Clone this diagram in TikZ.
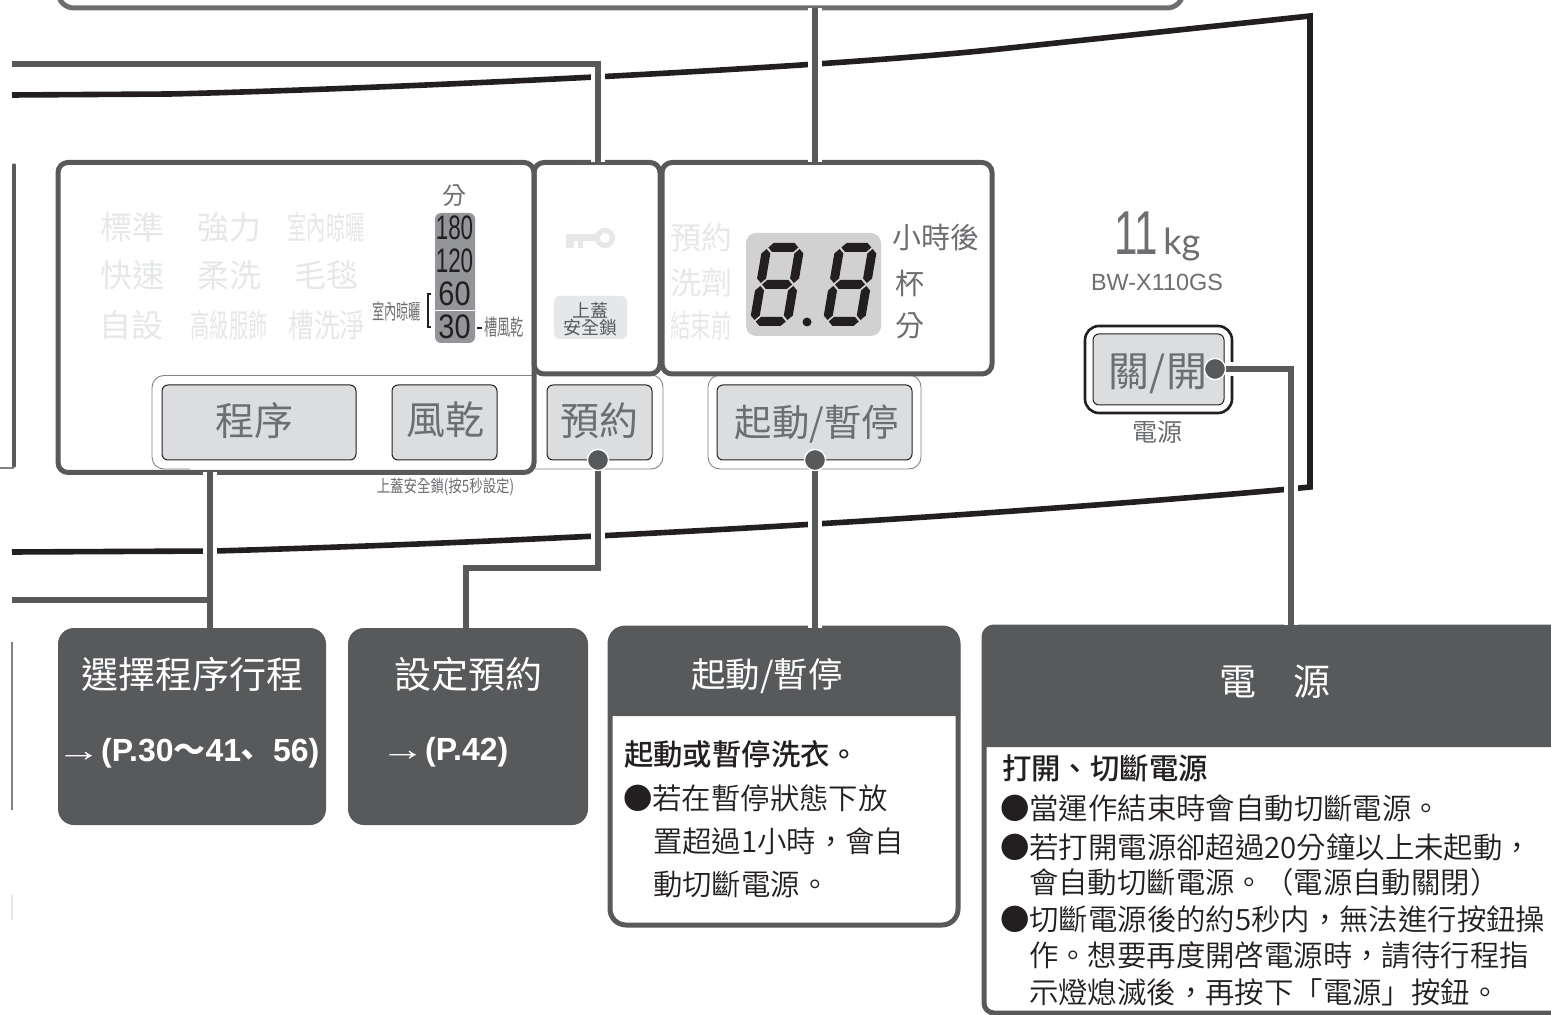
\documentclass[tikz,border=0pt]{standalone}
\usepackage{fontspec}
\usepackage{graphicx}
\setmainfont{Liberation Sans}
\newfontfamily\cjk{Noto Sans CJK TC}
\newfontfamily\cjkl{Noto Sans CJK TC DemiLight}
\newfontfamily\cjkm{Noto Sans CJK TC Medium}
\newfontfamily\latn{Lato}
\usetikzlibrary{fit}
\definecolor{dk}{HTML}{58595B}
\definecolor{md}{HTML}{6D6E71}
\definecolor{blk}{HTML}{231F20}
\definecolor{fnt}{HTML}{E6E7E8}
\definecolor{btn}{HTML}{DCDDDE}
\definecolor{rimc}{HTML}{808285}
\definecolor{colc}{HTML}{939598}
\newcommand\BX[6]{\path (#3,#4) coordinate (#1-a) (#5,#6) coordinate (#1-b);\node[fit=(#1-a)(#1-b),inner sep=0pt,outer sep=0pt,#2] (#1) {};}
\newcommand\SX[2]{\scalebox{#1}[1]{#2}}
\newcommand\hseg[2]{\fill (#1,#2) -- ++(4.5,-4.5) -- ++(21,0) -- ++(4.5,4.5) -- ++(-4.5,4.5) -- ++(-21,0) -- cycle;}
\newcommand\vseg[2]{\fill (#1,#2) -- ++(4.5,4.5) -- ++(0,25) -- ++(-4.5,4.5) -- ++(-4.5,-4.5) -- ++(0,-25) -- cycle;}
\newcommand\segdigit[2]{\begin{scope}[shift={(#1,#2)},xslant=.17,blk]
\hseg{6}{-78.5}\hseg{6}{-41.5}\hseg{6}{-4.5}
\vseg{4.5}{-77}\vseg{37.5}{-77}\vseg{4.5}{-40}\vseg{37.5}{-40}
\end{scope}}
\tikzset{
 sz/.style={font=\fontsize{#1}{#1}\selectfont\cjk,inner sep=0pt,outer sep=0pt},
 sl/.style={font=\fontsize{#1}{#1}\selectfont\cjkl,inner sep=0pt,outer sep=0pt},
 sm/.style={font=\fontsize{#1}{#1}\selectfont\cjkm,inner sep=0pt,outer sep=0pt},
 panelbox/.style={draw=dk,line width=2.5pt,rounded corners=5pt},
 btnbox/.style={draw=blk,line width=.5pt,fill=btn,rounded corners=3pt},
 darkbox/.style={fill=dk,rounded corners=8pt},
 halo/.style={preaction={draw=white,line width=7pt,line cap=butt}},
 conn/.style={draw=dk,line width=2.8pt,line join=miter},
 dotn/.style={circle,fill=dk,draw=white,line width=.6pt,minimum size=10.5pt,inner sep=0pt},
 rim/.style={draw=rimc,line width=.45pt,rounded corners=6pt},
 faint/.style={text=fnt},
 gtext/.style={text=md},
 wtext/.style={text=white},
 btext/.style={text=blk},
 numt/.style={text=blk,font=\fontsize{17}{17}\selectfont,inner sep=0pt},
 reft/.style={text=white,inner sep=0pt,font=\fontsize{16}{16}\selectfont\bfseries,anchor=west},
}
\begin{document}
\begin{tikzpicture}[x=.5pt,y=-.5pt]
\clip (0,0) rectangle (1551,1015);
\fill[white] (0,0) rectangle (1551,1015);
% washer outline
\draw[blk,line width=2.8pt,line join=miter] (12,95) -- (170,94) .. controls (350,90) and (800,70) .. (1000,49) -- (1310,16) -- (1310,487) -- (1290,489) .. controls (1000,515) and (600,540) .. (215,551) -- (12,552);
% left fragments
\draw[dk,line width=1.6pt,line cap=round] (14,165) -- (14,466);
\draw[rimc,line width=.6pt] (14,468) -- (0,468);
\draw[rimc,line width=.6pt] (12,642) -- (12,810);
\draw[fnt,line width=.6pt] (12,895) -- (12,920);
% rims
\draw[rim] (533,375.5) -- (152,375.5) -- (152,469) -- (190,469);
\draw[rim] (640,375) -- (663,375) -- (663,469) -- (535,469);
\draw[rim] (708,375) rectangle (921,469);
% boxes
\BX{topbox}{draw=md,line width=2.5pt,rounded corners=8pt}{58}{-40}{1183}{8}
\BX{box1}{darkbox}{58}{628}{326}{825}
\BX{box2}{darkbox}{348}{628}{588}{825}
\BX{box3}{draw=dk,line width=2.5pt,rounded corners=8pt}{610}{628}{958}{925}
\fill[dk] (608,716) [rounded corners=8pt] -- (608,626) -- (960,626) [sharp corners] -- (960,716) -- cycle;
\BX{box4}{draw=dk,line width=2.5pt,rounded corners=5pt}{984}{627}{1590}{1013}
\fill[dk] (982,747) [rounded corners=8pt] -- (982,625) -- (1556,625) [sharp corners] -- (1556,747) -- cycle;
% buttons
\BX{bCourse}{btnbox}{162}{385}{356}{460}
\BX{bDry}{btnbox}{392}{385}{497}{460}
\BX{bTimer}{btnbox}{547}{385}{652}{460}
\BX{bStart}{btnbox}{717}{385}{912}{460}
\BX{powerrim}{draw=blk,line width=1.3pt,rounded corners=7pt}{1085}{326}{1232}{413}
\BX{bPower}{btnbox}{1093}{334}{1224}{405}
% panels
\BX{panel1}{panelbox}{58}{162.5}{534}{472.5}
\BX{panel2}{panelbox}{534}{162.5}{660}{374}
\BX{panel3}{panelbox}{662}{162.5}{992}{374}
% dots and free ends
\node[dotn] (dotTimer) at (598,460) {};
\node[dotn] (dotStart) at (815,460) {};
\node[dotn] (dotPower) at (1215,369) {};
\coordinate (leftA) at (12,64);
\coordinate (leftB) at (12,600);
\coordinate (joinB) at (210,600);
\coordinate (elbowT) at (466,568);
\coordinate (powerDrop) at (1291,625);
% connectors
\path[conn,halo] (topbox.south -| dotStart) -- (panel3.north -| dotStart);
\path[conn,halo] (leftA) -| (panel2.north -| dotTimer);
\path[conn,halo] (panel1.south -| joinB) -- (box1.north -| joinB);
\path[conn] (leftB) -- (joinB);
\path[conn,halo] (dotTimer.south) |- (elbowT) -- (box2.north -| elbowT);
\path[conn,halo] (dotStart.south) -- (box3.north -| dotStart);
\path[conn,halo] (dotPower.east) -| (powerDrop);
\node[dotn] at (dotTimer) {};
\node[dotn] at (dotStart) {};
\node[dotn] at (dotPower) {};
% panel 1 faint labels
\node[sz=16,faint] (t1) at (132,227) {標準};
\node[sz=16,faint] (t2) at (229,227) {強力};
\node[sz=16,faint] (t3) at (326,227) {\SX{.6}{室內晾曬}};
\node[sz=16,faint] (t4) at (132,275) {快速};
\node[sz=16,faint] (t5) at (229,275) {柔洗};
\node[sz=16,faint] (t6) at (326,275) {毛毯};
\node[sz=16,faint] (t7) at (131,325) {自設};
\node[sz=16,faint] (t8) at (229,325) {\SX{.6}{高級服飾}};
\node[sz=16,faint] (t9) at (327,325) {\SX{.8}{槽洗淨}};
% time column
\node[sz=12,gtext] (fen) at (454,196) {分};
\BX{timecol}{fill=colc,rounded corners=3pt}{435}{213}{475}{343}
\draw[white,line width=.4pt] (435,310.5) -- (475,310.5);
\node[numt] (n180) at (454.5,228) {\SX{.66}{180}};
\node[numt] (n120) at (454.5,261) {\SX{.66}{120}};
\node[numt] (n60) at (454.5,294) {\SX{.85}{60}};
\node[numt] (n30) at (454.5,327) {\SX{.85}{30}};
\node[sz=10.5,gtext] (indoor) at (396.5,311) {\SX{.58}{室內晾曬}};
\draw[blk,line width=.7pt] (431,294) -- (428,294) -- (428,327) -- (431,327);
\draw[blk,line width=1pt] (477,328) -- (482,328);
\node[sz=11,gtext] (tubdry) at (504,327) {\SX{.6}{槽風乾}};
\node[sz=8.5,gtext] (lockhint) at (445.5,487) {\SX{.79}{上蓋安全鎖(按5秒設定)}};
% button labels
\node[sz=19.5,gtext] (lCourse) at (254,421) {程序};
\node[sz=19.5,gtext] (lDry) at (445,420) {風乾};
\node[sz=19.5,gtext] (lTimer) at (599,421) {預約};
\node[sz=18.7,gtext] (lStart) at (817,424) {起動/暫停};
\node[sz=20.5,gtext] (lPower) at (1158,374) {關/開};
% key
\draw[fnt,line width=2.6pt] (605,238) circle[radius=7.5];
\fill[fnt] (566,234) rectangle (598,241);
\fill[fnt] (566,241) rectangle (574,248);
\fill[fnt] (578,241) rectangle (583,248);
\BX{locktag}{fill=fnt,rounded corners=3pt}{554}{296}{627}{339}
\node[sz=9,text=dk] (lock1) at (590,310) {上蓋};
\node[sz=9,text=dk] (lock2) at (590,328) {安全鎖};
% display panel
\node[sz=15.5,faint] (d1) at (701,238) {預約};
\node[sz=15.5,faint] (d2) at (701,283) {洗劑};
\node[sz=15.5,faint] (d3) at (701,326) {\SX{.66}{結束前}};
\BX{display}{fill=black!18,rounded corners=5pt}{746}{233}{881}{336}
\segdigit{749}{326}
\segdigit{822}{326}
\fill[blk] (807,322) circle[radius=4.5];
\node[sz=14.5,gtext] (u1) at (936,238) {小時後};
\node[sz=14.5,gtext] (u2) at (910,283) {杯};
\node[sz=14.5,gtext] (u3) at (910,326) {分};
% right side labels
\node[font=\fontsize{31}{31}\selectfont,inner sep=0pt,gtext,anchor=base west] (cap) at (1114,255) {\SX{.68}{11}};
\node[font=\fontsize{18}{18}\selectfont\latn,inner sep=0pt,gtext,anchor=base west] (capu) at (1163,255) {kg};
\node[font=\fontsize{11.7}{11.7}\selectfont,inner sep=0pt,gtext] (model) at (1157,282) {BW-X110GS};
\node[sz=12.5,gtext] (plabel) at (1157,432) {電源};
% dark callouts
\node[sz=18.5,wtext] (h1) at (192,674) {選擇程序行程};
\node[reft] (r1) at (56,753) {{\mdseries \SX{1.4}{→}}(P.30{\cjk ～}41\kern-.3em\raisebox{-.15em}{\cjk 、}\kern.3em 56)};
\node[sz=18.5,wtext] (h2) at (468,674) {設定預約};
\node[reft] (r2) at (380,752) {{\mdseries \SX{1.4}{→}}(P.42)};
\node[sz=17.2,wtext] (h3) at (767,676) {起動/暫停};
\node[sm=14.7,anchor=west,btext] (b31) at (624,754) {起動或暫停洗衣。};
\node[sl=14.7,anchor=west,btext] (b32) at (623,798) {●若在暫停狀態下放};
\node[sl=14.7,anchor=west,btext] (b33) at (653,841) {置超過1小時，會自};
\node[sl=14.7,anchor=west,btext] (b34) at (653,884) {動切斷電源。};
\node[sz=18.5,wtext] (h4) at (1275,682) {電　源};
\node[sm=14.7,anchor=west,btext] (b41) at (1002,768) {打開、切斷電源};
\node[sl=14.7,anchor=west,btext] (b42) at (1000,808) {●當運作結束時會自動切斷電源。};
\node[sl=14.7,anchor=west,btext] (b43) at (1000,847) {●若打開電源卻超過20分鐘以上未起動，};
\node[sl=14.7,anchor=west,btext] (b44) at (1029,882) {會自動切斷電源。（電源自動關閉）};
\node[sl=14.7,anchor=west,btext] (b45) at (1000,919) {●切斷電源後的約5秒内，無法進行按鈕操};
\node[sl=14.7,anchor=west,btext] (b46) at (1029,955) {作。想要再度開啓電源時，請待行程指};
\node[sl=14.7,anchor=west,btext] (b47) at (1029,992) {示燈熄滅後，再按下「電源」按鈕。};
\end{tikzpicture}
\end{document}
